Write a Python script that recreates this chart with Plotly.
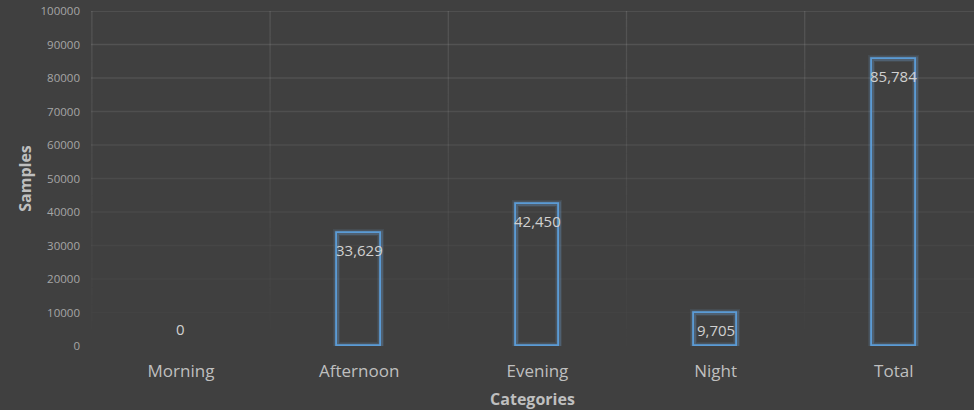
import plotly.graph_objects as go

# Samples per time-of-day category
categories = ["Morning", "Afternoon", "Evening", "Night", "Total"]
samples = [0, 33629, 42450, 9705, 85784]
y_ticks = [0, 10000, 20000, 30000, 40000, 50000, 60000, 70000, 80000, 90000, 100000]

BG = "#404040"
BLUE = "#5B9BD5"
FONT = "Open Sans"
Y_MAX = 100000

idx = list(range(len(categories)))


def outline_widths(w):
    # empty bars get no outline
    return [w if v > 0 else 0 for v in samples]


fig = go.Figure()

# soft glow behind each outlined bar
for w, a in [(7, 0.10), (4.5, 0.22)]:
    fig.add_trace(go.Bar(
        x=idx, y=samples, width=0.245,
        marker=dict(color="rgba(0,0,0,0)",
                    line=dict(color=f"rgba(120,175,230,{a})", width=outline_widths(w))),
        hoverinfo="skip", showlegend=False,
    ))

# crisp outline
fig.add_trace(go.Bar(
    x=idx, y=samples, width=0.245,
    marker=dict(color="rgba(0,0,0,0)", line=dict(color=BLUE, width=outline_widths(1.8))),
    showlegend=False,
))


def grid_alpha(v):
    # gridlines fade out toward the baseline
    return 0.005 + 0.105 * (v / Y_MAX)


shapes = []
for v in y_ticks[1:]:
    shapes.append(dict(
        type="line", xref="paper", yref="y", x0=0, x1=1, y0=v, y1=v,
        line=dict(color=f"rgba(255,255,255,{grid_alpha(v):.3f})", width=1.3),
        layer="below",
    ))

boundaries = [i - 0.5 for i in range(len(categories))]
step = 2500
for b in boundaries:
    for s in range(0, Y_MAX, step):
        mid = s + step / 2
        shapes.append(dict(
            type="line", xref="x", yref="y", x0=b, x1=b, y0=s, y1=s + step,
            line=dict(color=f"rgba(255,255,255,{grid_alpha(mid):.3f})", width=1.3),
            layer="below",
        ))

annotations = []
for i, v in zip(idx, samples):
    annotations.append(dict(
        x=i, y=v, xref="x", yref="y", text=f"{v:,}", showarrow=False,
        yshift=-17 if v > 0 else 17,
        font=dict(family=FONT, size=15, color="#d0d0d0"),
    ))

fig.update_layout(
    width=974, height=410,
    margin=dict(l=91, r=0, t=11, b=64),
    paper_bgcolor=BG, plot_bgcolor=BG,
    barmode="overlay",
    bargap=0,
    shapes=shapes,
    annotations=annotations,
    font=dict(family=FONT, color="#bfbfbf"),
    xaxis=dict(
        tickmode="array", tickvals=idx, ticktext=categories,
        range=[-0.505, 4.45], showgrid=False, zeroline=False, showline=False,
        tickfont=dict(family=FONT, size=17, color="#bfbfbf"),
        ticks="", ticklabelstandoff=13,
        title=dict(text="<b>Categories</b>", font=dict(family=FONT, size=16, color="#bfbfbf"), standoff=13),
    ),
    yaxis=dict(
        range=[0, Y_MAX], tickmode="array", tickvals=y_ticks,
        ticktext=[str(t) for t in y_ticks],
        showgrid=False, zeroline=False, showline=False,
        tickfont=dict(family=FONT, size=11.5, color="#a6a6a6"),
        ticks="", ticklabelstandoff=10,
        title=dict(text="<b>Samples</b>", font=dict(family=FONT, size=16, color="#bfbfbf"), standoff=4),
    ),
)

fig.write_html("out.html")
